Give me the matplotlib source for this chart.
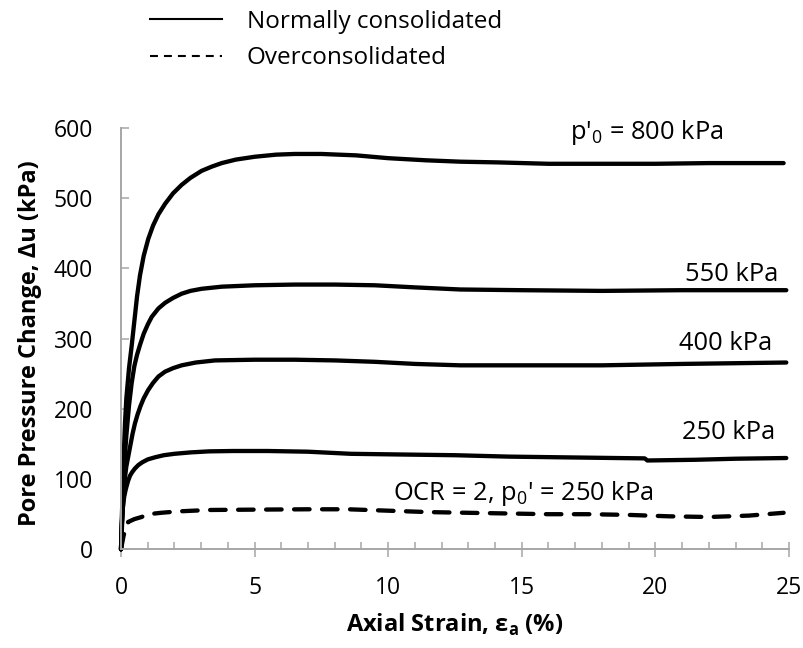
import matplotlib
matplotlib.use("Agg")
import matplotlib.pyplot as plt
from matplotlib.lines import Line2D
from matplotlib.ticker import MultipleLocator

plt.rcParams['font.family'] = ['Open Sans', 'DejaVu Sans']
plt.rcParams['mathtext.fontset'] = 'custom'
plt.rcParams['mathtext.rm'] = 'Open Sans'
plt.rcParams['mathtext.bf'] = 'Open Sans:bold'

# Data: axial strain (%) vs pore pressure change (kPa)
strain_800 = [0, 0.05, 0.1, 0.15, 0.2, 0.3, 0.4, 0.5, 0.6, 0.71, 0.85, 1.02, 1.2, 1.4, 1.65,
              1.95, 2.27, 2.6, 3.02, 3.4, 3.77, 4.3, 5.0, 5.8, 6.5, 7.5, 8.8, 10, 11.4, 12.7,
              14.1, 16, 18, 20, 22, 24.8]
du_800 = [0, 70, 130, 180, 215, 258, 290, 325, 360, 390, 418, 442, 461, 477, 492,
          507, 519, 529, 539, 545, 550, 555, 559, 562, 563, 563, 561, 557, 554, 552,
          551, 549, 549, 549, 550, 550]

strain_550 = [0, 0.05, 0.1, 0.15, 0.2, 0.3, 0.4, 0.5, 0.6, 0.71, 0.85, 1.0, 1.15, 1.4, 1.65,
              1.95, 2.27, 2.6, 3.02, 3.77, 5, 6.5, 8, 9.5, 11, 12.7, 15, 18, 21, 24.9]
du_550 = [0, 55, 100, 135, 162, 205, 237, 261, 277, 291, 307, 320, 331, 343, 351,
          358, 364, 368, 371, 374, 376, 377, 377, 376, 373, 370, 369, 368, 369, 369]

strain_400 = [0, 0.05, 0.1, 0.15, 0.2, 0.27, 0.35, 0.43, 0.52, 0.62, 0.73, 0.85, 1.02, 1.2, 1.4,
              1.65, 1.95, 2.27, 2.8, 3.52, 5, 6.5, 8, 9.5, 11, 12.7, 15, 18, 21, 24.9]
du_400 = [0, 45, 80, 103, 118, 132, 148, 164, 179, 192, 204, 215, 227, 237, 246,
          253, 258, 262, 266, 269, 270, 270, 269, 267, 264, 262, 262, 262, 264, 266]

strain_250 = [0, 0.03, 0.07, 0.12, 0.17, 0.21, 0.27, 0.34, 0.42, 0.52, 0.65, 0.8, 1.0, 1.27, 1.6,
              2.0, 2.6, 3.3, 4.2, 5.5, 7, 8.6, 10.5, 12.5, 14.5, 16.5, 18.5, 19.6, 19.7, 21.5,
              23, 24.9]
du_250 = [0, 35, 60, 75, 84, 90, 98, 105, 110, 115, 120, 124, 128, 131, 134,
          136, 138, 139.5, 140, 140, 139, 136, 135, 134, 132, 131, 130, 129.5, 126.5, 127.5,
          129, 130]

strain_oc = [0, 0.1, 0.27, 0.5, 0.77, 1.02, 1.5, 2.15, 3.27, 5, 7, 8.5, 10, 11.5, 13,
             14.5, 16, 17.5, 19, 20.5, 22, 23.5, 24.8]
du_oc = [0, 20, 39, 43, 46, 50, 52, 54, 56, 56.5, 57, 57, 55, 53, 52,
         51, 50, 50, 49, 47, 46, 48, 52]

legend_labels = ["Normally consolidated", "Overconsolidated"]
x_ticks = [0, 5, 10, 15, 20, 25]
y_ticks = [0, 100, 200, 300, 400, 500, 600]

fig = plt.figure(figsize=(8.04, 6.48), dpi=100)
ax = fig.add_axes([0.1505, 0.1523, 0.8308, 0.6502])

lw = 3.1
for s, d in [(strain_800, du_800), (strain_550, du_550), (strain_400, du_400), (strain_250, du_250)]:
    ax.plot(s, d, color='black', lw=lw, solid_capstyle='round', solid_joinstyle='round', clip_on=False)
ax.plot(strain_oc, du_oc, color='black', lw=lw, linestyle=(0, (3.6, 2.9)),
        dash_capstyle='round', clip_on=False)

# curve labels
fs = 16.5
fs_note = 18.4
ax.text(22.56, 593, "p'$_0$ = 800 kPa", ha='right', va='center', fontsize=fs_note)
ax.text(24.59, 391, "550 kPa", ha='right', va='center', fontsize=fs_note)
ax.text(24.39, 293, "400 kPa", ha='right', va='center', fontsize=fs_note)
ax.text(24.47, 166, "250 kPa", ha='right', va='center', fontsize=fs_note)
ax.text(15.05, 80, "OCR = 2, p$_0$' = 250 kPa", ha='center', va='center', fontsize=fs_note)

ax.set_xlim(0, 25)
ax.set_ylim(0, 600)
ax.set_xticks(x_ticks)
ax.set_yticks(y_ticks)
ax.xaxis.set_minor_locator(MultipleLocator(1))

gray = '#a6a6a6'
for side in ['top', 'right']:
    ax.spines[side].set_visible(False)
for side in ['left', 'bottom']:
    ax.spines[side].set_color(gray)
    ax.spines[side].set_linewidth(1.4)

ax.tick_params(axis='x', which='major', direction='inout', length=10.8, width=1.1,
               color=gray, pad=14, labelsize=fs)
ax.tick_params(axis='x', which='minor', direction='in', length=4.8, width=1.1, color=gray)
ax.tick_params(axis='y', which='major', direction='in', length=5.8, width=1.1,
               color=gray, pad=20, labelsize=fs)

ax.set_xlabel("Axial Strain, ε$_\\mathbf{a}$ (%)", fontsize=17, fontweight='bold', va='center')
ax.set_ylabel("Pore Pressure Change, Δu (kPa)", fontsize=17, fontweight='bold', va='center')
ax.xaxis.set_label_coords(0.5, -0.18)
ax.yaxis.set_label_coords(-0.136, 0.49)

handles = [Line2D([], [], color='black', lw=1.5),
           Line2D([], [], color='black', lw=1.5, linestyle=(0, (3.8, 2.9)))]
fig.legend(handles, legend_labels, loc='upper left', bbox_to_anchor=(150 / 804, 0.9846),
           frameon=False, fontsize=17.5, handlelength=2.96, handletextpad=1.03,
           labelspacing=0.51, borderpad=0, borderaxespad=0)

fig.savefig("out.png", dpi=100)
